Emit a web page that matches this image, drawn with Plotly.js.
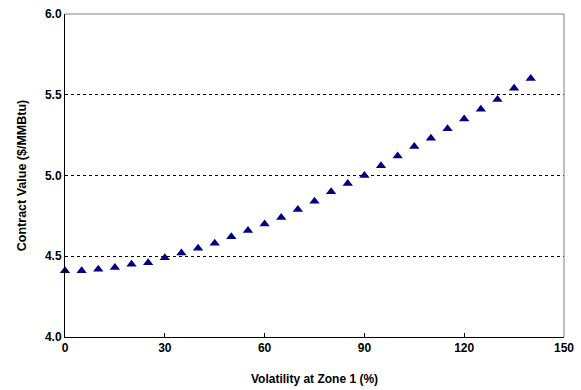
<!DOCTYPE html>
<html><head><meta charset="utf-8">
<script src="https://cdn.plot.ly/plotly-3.0.1.min.js"></script>
<style>html,body{margin:0;padding:0;background:#fff}#chart{width:581px;height:390px}</style>
</head><body><div id="chart"></div>
<script>
const volatility = [0,5,10,15,20,25,30,35,40,45,50,55,60,65,70,75,80,85,90,95,100,105,110,115,120,125,130,135,140];
const contractValue = [4.41,4.41,4.42,4.43,4.45,4.46,4.49,4.52,4.55,4.58,4.62,4.66,4.70,4.74,4.79,4.84,4.90,4.95,5.00,5.06,5.12,5.18,5.23,5.29,5.35,5.41,5.47,5.54,5.60];
const xTicks = [0,30,60,90,120,150];
const yTicks = [4.0,4.5,5.0,5.5,6.0];

const fam = '"Liberation Sans", Arial, sans-serif';
const trace = {
  x: volatility, y: contractValue, type:'scatter', mode:'markers',
  marker:{symbol:'triangle-up', size:9, color:'#000080', line:{width:0}},
  cliponaxis:false, hoverinfo:'skip'
};
const layout = {
  width:581, height:390,
  margin:{l:65, r:17, t:14, b:53},
  paper_bgcolor:'#fff', plot_bgcolor:'#fff',
  showlegend:false,
  font:{family:fam, size:12, color:'#000'},
  xaxis:{
    range:[0,150], tickvals:xTicks, ticktext:xTicks.map(String),
    showgrid:false, zeroline:false,
    showline:true, linecolor:'#000', linewidth:1,
    ticks:'inside', ticklen:4, tickcolor:'#000',
    tickfont:{family:fam, size:12, color:'#000', weight:'bold'},
    title:{text:'<b>Volatility at Zone 1 (%)</b>', font:{family:fam, size:12, color:'#000'}, standoff:20}
  },
  yaxis:{
    range:[4.0,6.0], tickvals:yTicks, ticktext:yTicks.map(v=>v.toFixed(1)),
    showgrid:true, gridcolor:'#000', griddash:'dot', gridwidth:1,
    zeroline:false,
    showline:true, linecolor:'#000', linewidth:1,
    ticks:'', ticklen:0,
    tickfont:{family:fam, size:12, color:'#000', weight:'bold'},
    title:{text:'<b>Contract Value ($/MMBtu)</b>', font:{family:fam, size:12.5, color:'#000'}, standoff:15}
  },
  shapes:[
    {type:'line', xref:'paper', yref:'paper', x0:0, x1:1, y0:1, y1:1, line:{color:'#808080', width:1}},
    {type:'line', xref:'paper', yref:'paper', x0:1, x1:1, y0:0, y1:1, line:{color:'#808080', width:1}}
  ]
};
Plotly.newPlot('chart', [trace], layout, {displayModeBar:false, staticPlot:true});
</script>
</body></html>
